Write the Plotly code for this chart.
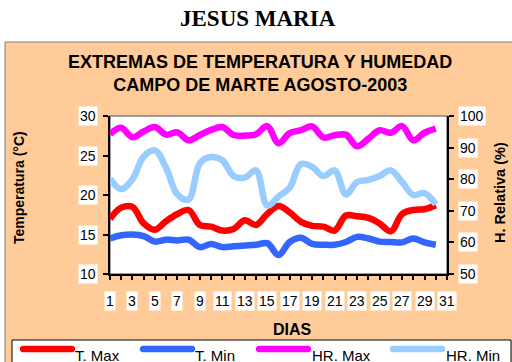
import plotly.graph_objects as go

# Daily records, Campo de Marte, August 2003
days = list(range(1, 31))
t_max = [17.0, 18.4, 18.5, 16.4, 15.6, 16.7, 17.6, 18.1, 16.2, 16.0,
         15.5, 15.7, 16.8, 16.2, 17.6, 18.6, 17.8, 16.6, 16.1, 16.0,
         15.5, 17.4, 17.3, 17.1, 16.4, 15.4, 17.6, 18.1, 18.2, 18.7]
t_min = [14.5, 14.9, 15.0, 14.8, 14.1, 14.35, 14.25, 14.35, 13.4, 13.8,
         13.4, 13.5, 13.6, 13.7, 13.9, 12.4, 14.05, 14.6, 13.8, 13.7,
         13.7, 14.05, 14.7, 14.5, 14.1, 14.05, 14.0, 14.5, 14.0, 13.7]
hr_max = [94.3, 96.3, 93.3, 95.1, 96.5, 94.1, 94.8, 92.3, 94.0, 95.6,
          96.5, 94.0, 93.8, 94.2, 96.8, 91.4, 94.6, 95.5, 96.7, 93.2,
          93.9, 94.1, 90.4, 92.8, 95.5, 94.7, 96.8, 92.3, 94.7, 96.0]
hr_min = [80.2, 76.9, 80.0, 87.2, 89.1, 83.5, 75.2, 73.6, 85.0, 87.0,
          86.0, 81.0, 80.5, 82.8, 71.7, 74.5, 77.4, 84.8, 83.9, 81.0,
          82.8, 75.2, 79.1, 79.8, 81.0, 82.8, 79.1, 75.0, 75.6, 72.0]

x_tick_days = list(range(1, 32))
x_label_days = list(range(1, 32, 2))
temp_ticks = [10, 15, 20, 25, 30]
hum_ticks = [50, 60, 70, 80, 90, 100]

series_names = ["T. Max", "T. Min", "HR. Max", "HR. Min"]
series_values = [t_max, t_min, hr_max, hr_min]
series_colors = ["#FF0000", "#3366FF", "#FF00FF", "#99CCFF"]
series_axes = ["y", "y", "y2", "y2"]

# page geometry (pixels)
W, H = 512, 362
PL, PR, PT, PB = 110, 447, 116, 274
FONT = "Liberation Sans, Arial, sans-serif"


def px(x):
    return (x - PL) / (PR - PL)


def py(y):
    return (PB - y) / (PB - PT)


fig = go.Figure()

for name, vals, col, ax in zip(series_names, series_values, series_colors, series_axes):
    fig.add_trace(go.Scatter(
        x=days, y=vals, name=name, yaxis=ax, mode="lines",
        line=dict(color=col, width=6.5, shape="spline", smoothing=1),
        showlegend=False, hoverinfo="skip",
    ))

axis_common = dict(showgrid=False, zeroline=False, showticklabels=False,
                   tickcolor="#000000", tickwidth=1.5)

fig.update_layout(
    width=W, height=H,
    margin=dict(l=PL, r=W - PR, t=PT, b=H - PB, autoexpand=False),
    paper_bgcolor="#FFFFFF", plot_bgcolor="#FFFFFF",
    xaxis=dict(range=[1, 31], tickvals=x_tick_days, ticks="outside", ticklen=4,
               showline=True, linecolor="#000000", linewidth=2, **axis_common),
    xaxis2=dict(range=[1, 31], tickvals=x_tick_days, ticks="inside", ticklen=4,
                overlaying="x", anchor="y", side="bottom", showline=False, **axis_common),
    yaxis=dict(range=[10, 30], tickvals=temp_ticks, ticks="outside", ticklen=5,
               showline=True, linecolor="#000000", linewidth=2, **axis_common),
    yaxis3=dict(range=[10, 30], tickvals=temp_ticks, ticks="inside", ticklen=5,
                overlaying="y", anchor="x", side="left", showline=False, **axis_common),
    yaxis2=dict(range=[50, 100], tickvals=hum_ticks, ticks="outside", ticklen=5,
                overlaying="y", anchor="x", side="right",
                showline=True, linecolor="#000000", linewidth=2, **axis_common),
    yaxis4=dict(range=[50, 100], tickvals=hum_ticks, ticks="inside", ticklen=5,
                overlaying="y", anchor="x", side="right", showline=False, **axis_common),
)

shapes = [
    # chart area background
    dict(type="rect", xref="paper", yref="paper", layer="below",
         x0=px(5), x1=px(530), y0=py(380), y1=py(42),
         fillcolor="#FFCC99", line=dict(color="#808080", width=1)),
    # plot area
    dict(type="rect", xref="paper", yref="paper", layer="below",
         x0=0, x1=1, y0=0, y1=1,
         fillcolor="#FFFFFF", line=dict(color="#808080", width=1.5)),
    # legend box
    dict(type="rect", xref="paper", yref="paper", layer="below",
         x0=px(12), x1=px(511), y0=py(380), y1=py(340),
         fillcolor="#FFFFFF", line=dict(color="#000000", width=1)),
]

annotations = []

# legend entries: rounded line sample + label
legend_sample_x = [47.5, 167.5, 283.5, 417.5]
legend_text_x = [73, 193, 310, 444]
half, r = 24.5, 3.2
k = 1.33 * r
capsule = (f"M {-half},{-r} L {half},{-r} C {half + k},{-r} {half + k},{r} {half},{r} "
           f"L {-half},{r} C {-half - k},{r} {-half - k},{-r} {-half},{-r} Z")
for name, col, sx, tx in zip(series_names, series_colors, legend_sample_x, legend_text_x):
    shapes.append(dict(type="path", xref="paper", yref="paper",
                       xsizemode="pixel", ysizemode="pixel",
                       xanchor=px(sx), yanchor=py(349), path=capsule,
                       fillcolor=col, line=dict(width=0), layer="above"))
    annotations.append(dict(text=name, xref="paper", yref="paper",
                            x=px(tx), y=py(355), xanchor="left", yanchor="middle",
                            showarrow=False, font=dict(family=FONT, size=15, color="#000000")))

# tick labels on white boxes
for d in x_label_days:
    annotations.append(dict(text=str(d), xref="x", yref="paper", x=d, y=py(301),
                            xanchor="center", yanchor="middle", showarrow=False,
                            bgcolor="#FFFFFF", borderpad=1,
                            font=dict(family=FONT, size=14, color="#000000")))
for t in temp_ticks:
    annotations.append(dict(text=str(t), xref="paper", yref="y", x=px(98), y=t,
                            xanchor="right", yanchor="middle", showarrow=False,
                            bgcolor="#FFFFFF", borderpad=1,
                            font=dict(family=FONT, size=14, color="#000000")))
for h in hum_ticks:
    annotations.append(dict(text=str(h), xref="paper", yref="y2", x=px(458), y=h,
                            xanchor="left", yanchor="middle", showarrow=False,
                            bgcolor="#FFFFFF", borderpad=1,
                            font=dict(family=FONT, size=14, color="#000000")))

# titles
annotations += [
    dict(text="<b>JESUS MARIA</b>", xref="paper", yref="paper", x=px(258), y=py(18),
         xanchor="center", yanchor="middle", showarrow=False,
         font=dict(family="Liberation Serif, Times New Roman, serif", size=23, color="#000000")),
    dict(text="<b>EXTREMAS DE TEMPERATURA Y HUMEDAD<br>CAMPO DE MARTE AGOSTO-2003</b>",
         xref="paper", yref="paper", x=px(260), y=py(73.5),
         xanchor="center", yanchor="middle", showarrow=False,
         font=dict(family=FONT, size=18, color="#000000")),
    dict(text="<b>DIAS</b>", xref="paper", yref="paper", x=px(292), y=py(329),
         xanchor="center", yanchor="middle", showarrow=False,
         font=dict(family=FONT, size=16, color="#000000")),
    dict(text="<b>Temperatura (°C)</b>", xref="paper", yref="paper", x=px(19), y=py(188),
         xanchor="center", yanchor="middle", textangle=-90, showarrow=False,
         font=dict(family=FONT, size=14, color="#000000")),
    dict(text="<b>H. Relativa (%)</b>", xref="paper", yref="paper", x=px(500), y=py(193),
         xanchor="center", yanchor="middle", textangle=-90, showarrow=False,
         font=dict(family=FONT, size=14.5, color="#000000")),
]

fig.update_layout(shapes=shapes, annotations=annotations)

fig.write_html("out.html")
